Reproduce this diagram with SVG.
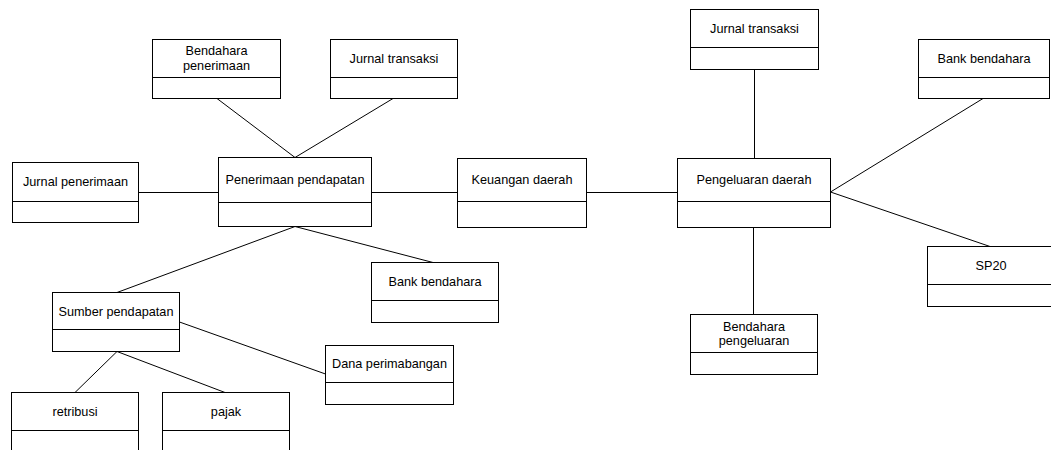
<svg xmlns="http://www.w3.org/2000/svg" width="1051" height="450" viewBox="0 0 1051 450">
  <style>
    .box rect { fill: #fff; stroke: #000; stroke-width: 1; }
    .box line { stroke: #000; stroke-width: 1; }
    .box text { font-family: "Liberation Sans", Arial, sans-serif; font-size: 12.7px; fill: #000; text-anchor: middle; }
    #connectors line { stroke: #000; stroke-width: 1; }
  </style>
  <rect width="1051" height="450" fill="#fff"/>

  <!-- associations between classes -->
  <g id="connectors">
    <line x1="217" y1="98.5" x2="295" y2="157.5"/>
    <line x1="393" y1="98.5" x2="295" y2="157.5"/>
    <line x1="138.5" y1="192.5" x2="218.5" y2="192.5"/>
    <line x1="371.5" y1="192.5" x2="457.5" y2="192.5"/>
    <line x1="586.5" y1="192.5" x2="677.5" y2="192.5"/>
    <line x1="754.5" y1="69.5" x2="754.5" y2="158.5"/>
    <line x1="830.5" y1="192" x2="983" y2="98.5"/>
    <line x1="830.5" y1="192" x2="990" y2="246.5"/>
    <line x1="753.5" y1="227.5" x2="753.5" y2="314.5"/>
    <line x1="295" y1="226.5" x2="117" y2="292.5"/>
    <line x1="295" y1="226.5" x2="433" y2="262.5"/>
    <line x1="179.5" y1="322" x2="325.5" y2="374"/>
    <line x1="117" y1="351.5" x2="75" y2="392.5"/>
    <line x1="117" y1="351.5" x2="225" y2="392.5"/>
  </g>

  <g id="bendahara-penerimaan" class="box">
    <rect x="152.5" y="39.5" width="128" height="59"/>
    <line x1="152.5" y1="77.5" x2="280.5" y2="77.5"/>
    <text x="216.5" y="54.5">Bendahara</text>
    <text x="216.5" y="69.5">penerimaan</text>
  </g>

  <g id="jurnal-transaksi-penerimaan" class="box">
    <rect x="330.5" y="39.5" width="127" height="59"/>
    <line x1="330.5" y1="77.5" x2="457.5" y2="77.5"/>
    <text x="394" y="62.5">Jurnal transaksi</text>
  </g>

  <g id="jurnal-penerimaan" class="box">
    <rect x="12.5" y="162.5" width="126" height="60"/>
    <line x1="12.5" y1="201.5" x2="138.5" y2="201.5"/>
    <text x="75.5" y="185.5">Jurnal penerimaan</text>
  </g>

  <g id="penerimaan-pendapatan" class="box">
    <rect x="218.5" y="157.5" width="153" height="69"/>
    <line x1="218.5" y1="202.5" x2="371.5" y2="202.5"/>
    <text x="295" y="183.5">Penerimaan pendapatan</text>
  </g>

  <g id="keuangan-daerah" class="box">
    <rect x="457.5" y="158.5" width="129" height="69"/>
    <line x1="457.5" y1="201.5" x2="586.5" y2="201.5"/>
    <text x="522" y="183.5">Keuangan daerah</text>
  </g>

  <g id="pengeluaran-daerah" class="box">
    <rect x="677.5" y="158.5" width="153" height="69"/>
    <line x1="677.5" y1="201.5" x2="830.5" y2="201.5"/>
    <text x="754" y="183.5">Pengeluaran daerah</text>
  </g>

  <g id="jurnal-transaksi-pengeluaran" class="box">
    <rect x="690.5" y="9.5" width="128" height="60"/>
    <line x1="690.5" y1="47.5" x2="818.5" y2="47.5"/>
    <text x="754.5" y="32.5">Jurnal transaksi</text>
  </g>

  <g id="bank-bendahara-pengeluaran" class="box">
    <rect x="918.5" y="39.5" width="131" height="59"/>
    <line x1="918.5" y1="77.5" x2="1049.5" y2="77.5"/>
    <text x="984" y="62.5">Bank bendahara</text>
  </g>

  <g id="sp20" class="box">
    <rect x="927.5" y="246.5" width="128" height="60"/>
    <line x1="927.5" y1="284.5" x2="1055.5" y2="284.5"/>
    <text x="991" y="269.5">SP20</text>
  </g>

  <g id="bendahara-pengeluaran" class="box">
    <rect x="690.5" y="314.5" width="127" height="60"/>
    <line x1="690.5" y1="352.5" x2="817.5" y2="352.5"/>
    <text x="754" y="331">Bendahara</text>
    <text x="754" y="345">pengeluaran</text>
  </g>

  <g id="bank-bendahara-penerimaan" class="box">
    <rect x="371.5" y="262.5" width="127" height="60"/>
    <line x1="371.5" y1="300.5" x2="498.5" y2="300.5"/>
    <text x="435" y="285.5">Bank bendahara</text>
  </g>

  <g id="sumber-pendapatan" class="box">
    <rect x="52.5" y="292.5" width="127" height="59"/>
    <line x1="52.5" y1="329.5" x2="179.5" y2="329.5"/>
    <text x="116" y="315.5">Sumber pendapatan</text>
  </g>

  <g id="dana-perimabangan" class="box">
    <rect x="325.5" y="345.5" width="128" height="59"/>
    <line x1="325.5" y1="382.5" x2="453.5" y2="382.5"/>
    <text x="389.5" y="367.5">Dana perimabangan</text>
  </g>

  <g id="retribusi" class="box">
    <rect x="11.5" y="392.5" width="127" height="70"/>
    <line x1="11.5" y1="430.5" x2="138.5" y2="430.5"/>
    <text x="75" y="415.5">retribusi</text>
  </g>

  <g id="pajak" class="box">
    <rect x="162.5" y="392.5" width="127" height="70"/>
    <line x1="162.5" y1="430.5" x2="289.5" y2="430.5"/>
    <text x="226" y="415.5">pajak</text>
  </g>
</svg>
